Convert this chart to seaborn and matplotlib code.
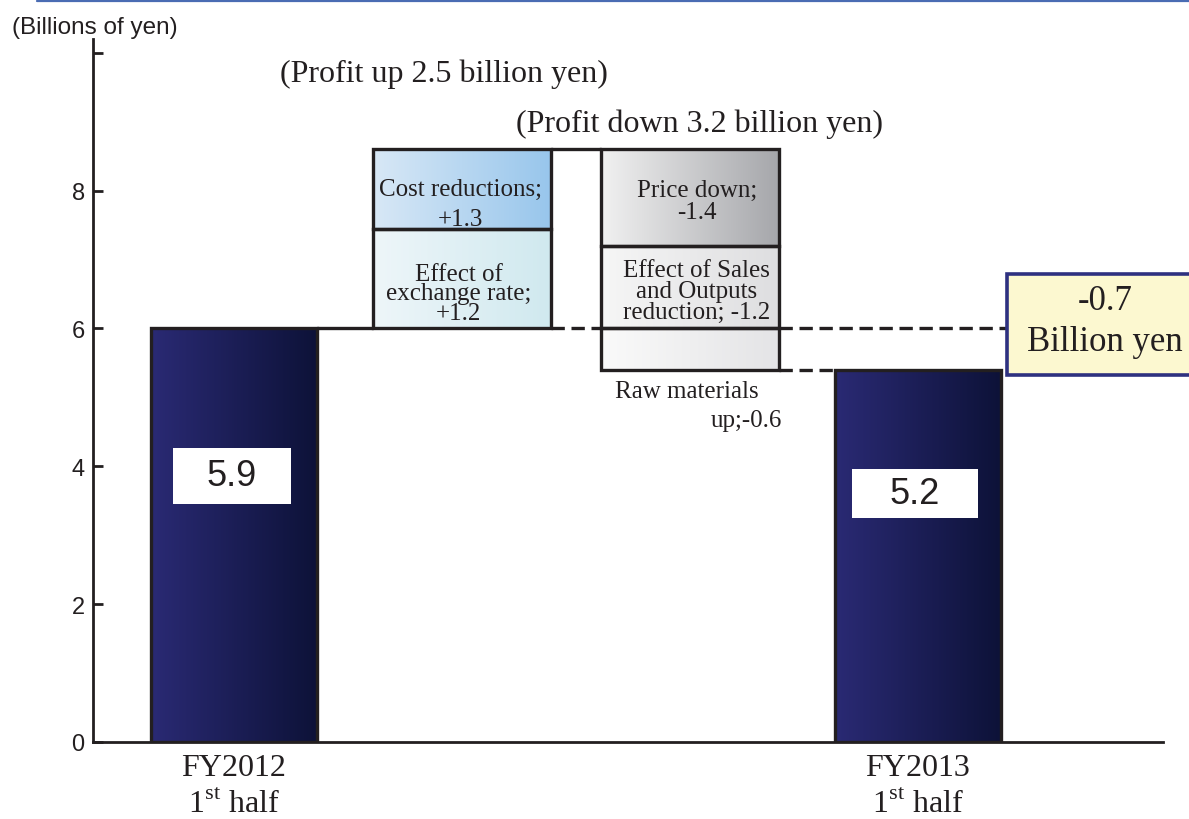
import numpy as np
import pandas as pd
import matplotlib
matplotlib.use("Agg")
from matplotlib import pyplot as plt
from matplotlib.colors import LinearSegmentedColormap
from matplotlib.lines import Line2D
from matplotlib.patches import Rectangle
import seaborn as sns

# steps of the waterfall (drawn heights)
steps = ["FY2012", "up", "down", "FY2013"]
totals = [6.0, np.nan, np.nan, 5.4]
total_labels = ["5.9", "5.2"]

up_names = ["Effect of\nexchange rate;\n+1.2", "Cost reductions;\n+1.3"]
up_values = [1.45, 1.15]
down_names = ["Price down;\n-1.4", "Effect of Sales\nand Outputs\nreduction; -1.2", ""]
down_values = [1.4, 1.2, 0.6]

tick_labels = ["FY2012\n1$^{\\mathrm{st}}$ half", "FY2013\n1$^{\\mathrm{st}}$ half"]
yticks = [0, 2, 4, 6, 8, 10]
ytick_labels = ["0", "2", "4", "6", "8", ""]

EDGE = "#231f20"

sns.set_theme(style="white")
plt.rcParams["font.family"] = ["Liberation Serif", "DejaVu Serif"]
plt.rcParams["mathtext.fontset"] = "custom"
plt.rcParams["mathtext.rm"] = "Liberation Serif"


def fill_gradient(ax, patch, c0, c1):
    x0, y0 = patch.get_x(), patch.get_y()
    w, h = patch.get_width(), patch.get_height()
    cmap = LinearSegmentedColormap.from_list("g", [c0, c1])
    im = ax.imshow(np.linspace(0, 1, 256)[None, :], cmap=cmap,
                   extent=(x0, x0 + w, y0, y0 + h), aspect="auto",
                   zorder=patch.get_zorder() - 0.1, interpolation="bicubic")
    im.set_clip_path(patch)
    patch.set_facecolor("none")


fig = plt.figure(figsize=(11.89, 8.2), dpi=100)
ax = fig.add_axes([93 / 1189, 1 - 743 / 820, 1070 / 1189, 703 / 820])

df = pd.DataFrame({"step": steps, "value": totals})
sns.barplot(data=df, x="step", y="value", order=steps, width=0.73,
            edgecolor=EDGE, linewidth=2.4, color="#28286e", ax=ax)
for p in ax.patches:
    if p.get_height() > 0:
        fill_gradient(ax, p, "#2a2a74", "#0d1238")

# rising boxes
bottom = totals[0]
up_colors = [("#eef6f9", "#d0e9ef"), ("#d8e8f6", "#98c6ec")]
up_text = [(0.985, 0.35, 0.85), (0.995, 0.31, 1.5)]  # (x, fraction of box height from bottom, linespacing)
for name, v, (c0, c1), (tx, fy, ls) in zip(up_names, up_values, up_colors, up_text):
    b = ax.bar(1, v, bottom=bottom, width=0.78, edgecolor=EDGE, linewidth=2.4, zorder=2)[0]
    fill_gradient(ax, b, c0, c1)
    ax.text(tx, bottom + v * fy, name, ha="center", va="center", fontsize=18,
            linespacing=ls, color=EDGE, zorder=4)
    bottom += v
top = bottom

# falling boxes
down_colors = [("#f1f1f1", "#a6a7ab"), ("#f6f6f6", "#dedee0"), ("#fafafa", "#e4e4e6")]
down_text = [(0.54, 1.0), (0.55, 0.95), (0.5, 1.0)]  # fraction from top
level = top
for name, v, (c0, c1), (fy, ls) in zip(down_names, down_values, down_colors, down_text):
    b = ax.bar(2, v, bottom=level - v, width=0.78, edgecolor=EDGE, linewidth=2.4, zorder=2)[0]
    fill_gradient(ax, b, c0, c1)
    if name:
        ax.text(2.03, level - v * fy, name, ha="center", va="center", fontsize=18,
                linespacing=ls, color=EDGE, zorder=4)
    level -= v

# connectors
ax.plot([0.365, 0.61], [totals[0]] * 2, color=EDGE, lw=2.4, zorder=3)
ax.plot([1.39, 1.61], [top] * 2, color=EDGE, lw=2.4, zorder=3)
ax.plot([1.39, 1.61], [totals[0]] * 2, color=EDGE, lw=2.4, ls=(0, (4, 2)), zorder=3)
ax.plot([2.39, 3.395], [totals[0]] * 2, color=EDGE, lw=2.4, ls=(0, (4, 2)), zorder=3)
ax.plot([2.39, 2.635], [level] * 2, color=EDGE, lw=2.4, ls=(0, (4, 2)), zorder=3)

# total value labels in white boxes
for (x0, x1, y0, y1), lab in zip([(-0.268, 0.25, 3.46, 4.27), (2.71, 3.263, 3.25, 3.96)], total_labels):
    ax.add_patch(Rectangle((x0, y0), x1 - x0, y1 - y0, fc="white", ec="none", zorder=4))
    ax.text((x0 + x1) / 2, (y0 + y1) / 2, lab, ha="center", va="center", fontsize=26,
            family="Liberation Sans", color=EDGE, zorder=5)

ax.text(2.30, 5.09, "Raw materials", ha="right", va="center", fontsize=18, color=EDGE)
ax.text(2.404, 4.67, "up;-0.6", ha="right", va="center", fontsize=18, color=EDGE)

ax.text(0.203, 9.71, "(Profit up 2.5 billion yen)", ha="left", va="center", fontsize=23, color=EDGE)
ax.text(1.237, 8.98, "(Profit down 3.2 billion yen)", ha="left", va="center", fontsize=23, color=EDGE)

# difference callout
ax.add_patch(Rectangle((3.39, 5.32), 0.9, 1.47, fc="#fcf8d0", ec="#2e3180",
                       lw=2.6, clip_on=False, zorder=4))
ax.text(3.82, 6.41, "-0.7", ha="center", va="center", fontsize=25, color=EDGE, zorder=5, clip_on=False)
ax.text(3.82, 5.81, "Billion yen", ha="center", va="center", fontsize=25, color=EDGE, zorder=5, clip_on=False)

ax.set_xlim(-0.618, 4.075)
ax.set_ylim(0, 10.2)
ax.set_xticks([0, 3])
ax.set_xticklabels(tick_labels, fontsize=23, color=EDGE, linespacing=1.35)
ax.set_yticks(yticks)
ax.set_yticklabels(ytick_labels, fontsize=17, family="Liberation Sans", color=EDGE)
ax.tick_params(axis="y", direction="in", length=7, width=2, color=EDGE, left=True, pad=6)
ax.tick_params(axis="x", length=0, pad=8)
ax.set_xlabel("")
ax.set_ylabel("")
for s in ["top", "right"]:
    ax.spines[s].set_visible(False)
for s in ["left", "bottom"]:
    ax.spines[s].set_color(EDGE)
    ax.spines[s].set_linewidth(2)

fig.text(12 / 1189, 1 - 28 / 820, "(Billions of yen)", ha="left", va="center",
         fontsize=17.5, family="Liberation Sans", color=EDGE)
fig.add_artist(Line2D([37 / 1189, 1], [1 - 1.5 / 820] * 2, color="#4a6cb3", lw=1.6))

fig.savefig("out.png", dpi=100)
